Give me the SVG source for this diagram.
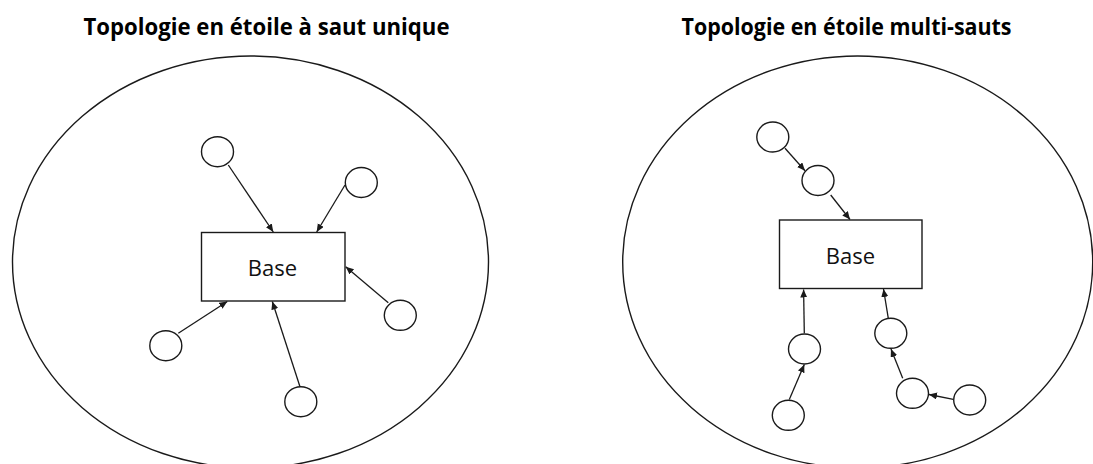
<svg xmlns="http://www.w3.org/2000/svg" width="1093" height="464" viewBox="0 0 1093 464">
<style>
.bg{fill:#ffffff}
.area{fill:none;stroke:#1a1a1a;stroke-width:1.4}
.node{fill:#ffffff;stroke:#1a1a1a;stroke-width:1.4}
.base{fill:#ffffff;stroke:#1a1a1a;stroke-width:1.4}
.edge{fill:none;stroke:#1a1a1a;stroke-width:1.3}
.title{font-family:"Open Sans","Liberation Sans",sans-serif;font-weight:700;font-size:23px;fill:#000;text-anchor:middle}
.lbl{font-family:"Open Sans","Liberation Sans",sans-serif;font-size:22px;fill:#111;text-anchor:middle}
</style>
<defs>
<marker id="arr" markerUnits="userSpaceOnUse" markerWidth="9" markerHeight="8" refX="8" refY="3.5" orient="auto">
<path d="M0,0 L8,3.5 L0,7 z" fill="#1a1a1a"/>
</marker>
</defs>
<rect class="bg" x="0" y="0" width="1093" height="464"/>

<g id="title-left"><text class="title" x="266.5" y="35" textLength="366" lengthAdjust="spacingAndGlyphs">Topologie en étoile à saut unique</text></g>
<g id="title-right"><text class="title" x="846.5" y="35" textLength="330" lengthAdjust="spacingAndGlyphs">Topologie en étoile multi-sauts</text></g>

<g id="area-left"><ellipse class="area" cx="250.5" cy="262" rx="238" ry="206"/></g>
<g id="area-right"><ellipse class="area" cx="857.7" cy="262" rx="235" ry="206"/></g>

<g id="connectors">
<line class="edge" x1="228.3" y1="165" x2="273.3" y2="232" marker-end="url(#arr)"/>
<line class="edge" x1="345" y1="185" x2="316.7" y2="232" marker-end="url(#arr)"/>
<line class="edge" x1="388.3" y1="302.7" x2="345.7" y2="266.7" marker-end="url(#arr)"/>
<line class="edge" x1="178.3" y1="333.3" x2="227.3" y2="301.5" marker-end="url(#arr)"/>
<line class="edge" x1="300" y1="386.7" x2="272.3" y2="301.5" marker-end="url(#arr)"/>

<line class="edge" x1="785" y1="148.3" x2="805" y2="170.7" marker-end="url(#arr)"/>
<line class="edge" x1="830.7" y1="195" x2="850" y2="219.5" marker-end="url(#arr)"/>
<line class="edge" x1="804.3" y1="333.3" x2="803.6" y2="289.5" marker-end="url(#arr)"/>
<line class="edge" x1="789.3" y1="399.5" x2="804.3" y2="364.5" marker-end="url(#arr)"/>
<line class="edge" x1="888.3" y1="318.3" x2="883.5" y2="289" marker-end="url(#arr)"/>
<line class="edge" x1="902.7" y1="378.3" x2="891" y2="349" marker-end="url(#arr)"/>
<line class="edge" x1="953.3" y1="399.3" x2="929" y2="394.5" marker-end="url(#arr)"/>
</g>

<g id="base-left"><rect class="base" x="201.5" y="232.5" width="143.5" height="68.5"/><text class="lbl" x="272.5" y="276">Base</text></g>
<g id="base-right"><rect class="base" x="779.5" y="220" width="142.5" height="68.5"/><text class="lbl" x="850.5" y="263.5">Base</text></g>

<g id="n-l1"><ellipse class="node" cx="217.5" cy="151.7" rx="16" ry="15"/></g>
<g id="n-l2"><ellipse class="node" cx="361.3" cy="182.5" rx="16" ry="15"/></g>
<g id="n-l3"><ellipse class="node" cx="400.3" cy="315.3" rx="16" ry="15"/></g>
<g id="n-l4"><ellipse class="node" cx="165.8" cy="345.7" rx="16" ry="15"/></g>
<g id="n-l5"><ellipse class="node" cx="300.8" cy="401.7" rx="16" ry="15"/></g>

<g id="n-r1"><ellipse class="node" cx="772.8" cy="137" rx="16" ry="15"/></g>
<g id="n-r2"><ellipse class="node" cx="818" cy="180.5" rx="16" ry="15"/></g>
<g id="n-r3"><ellipse class="node" cx="804.5" cy="349" rx="16" ry="15"/></g>
<g id="n-r4"><ellipse class="node" cx="788.3" cy="415.3" rx="16" ry="15"/></g>
<g id="n-r5"><ellipse class="node" cx="890.8" cy="333.3" rx="16" ry="15"/></g>
<g id="n-r6"><ellipse class="node" cx="912.5" cy="393.3" rx="16" ry="15"/></g>
<g id="n-r7"><ellipse class="node" cx="969.7" cy="400" rx="16" ry="15"/></g>
</svg>
